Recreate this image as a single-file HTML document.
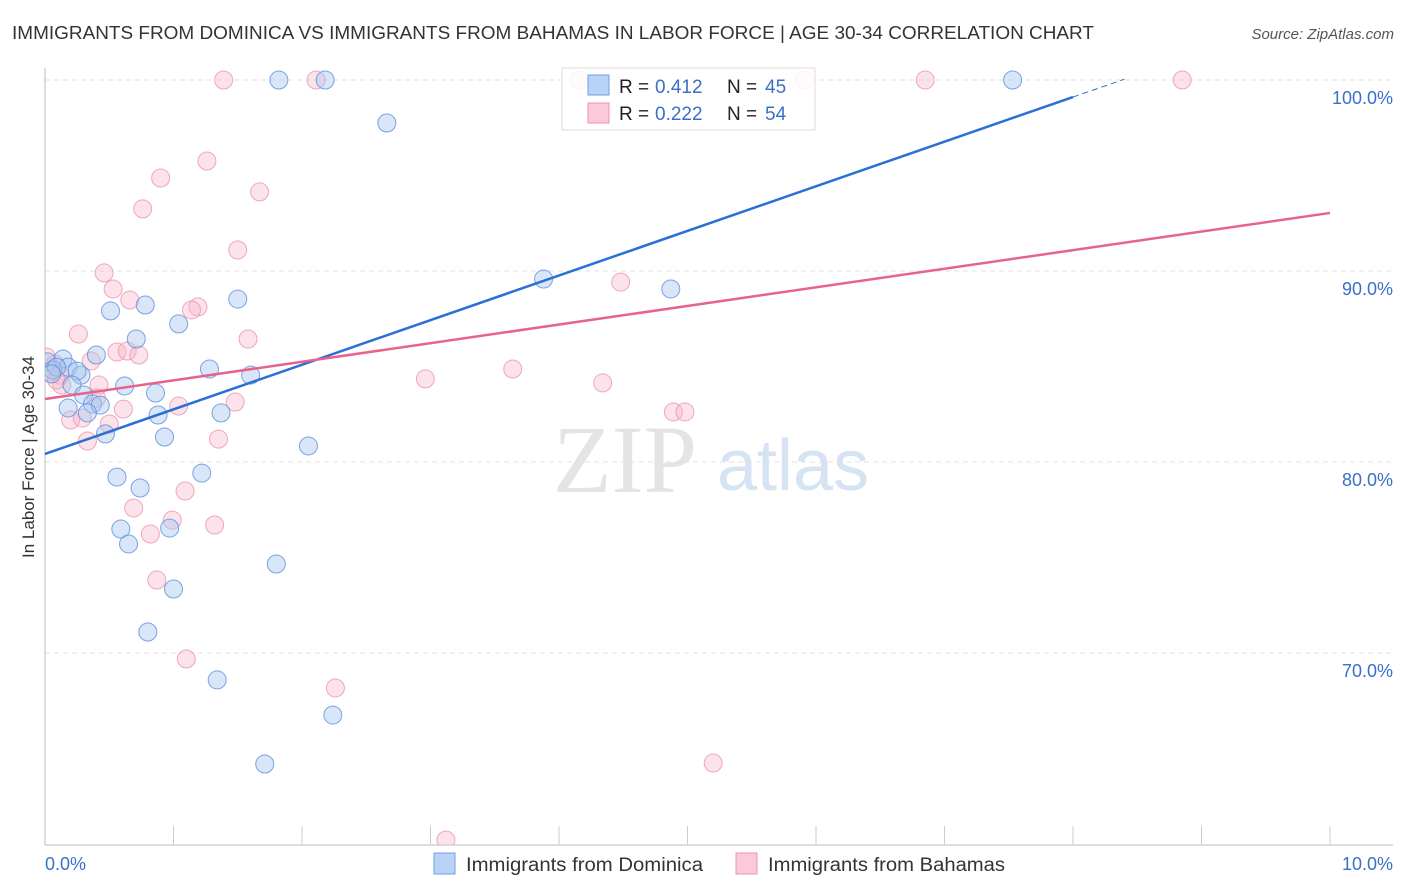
<!DOCTYPE html>
<html><head><meta charset="utf-8"><style>
body{margin:0;background:#fff;font-family:"Liberation Sans",sans-serif;}
svg{display:block}
</style></head><body>
<svg id="chart" width="1406" height="892" viewBox="0 0 1406 892" xmlns="http://www.w3.org/2000/svg">
<text x="12" y="39" font-size="18" fill="#333" textLength="1082" lengthAdjust="spacingAndGlyphs">IMMIGRANTS FROM DOMINICA VS IMMIGRANTS FROM BAHAMAS IN LABOR FORCE | AGE 30-34 CORRELATION CHART</text>
<text x="1394" y="39" font-size="15" fill="#555" font-style="italic" text-anchor="end">Source: ZipAtlas.com</text>
<g>
<text x="553" y="492" font-size="96" font-family="Liberation Serif,serif" fill="#e4e4e4">ZIP</text>
<text x="717" y="490" font-size="72" fill="#d6e3f3">atlas</text>
</g>
<g id="grid"></g>
<g id="axes"></g>
<defs><clipPath id="plotclip"><rect x="45" y="60" width="1360" height="785"/></clipPath></defs>
<g id="points" clip-path="url(#plotclip)"></g>
<g id="trends"></g>
<text transform="translate(34,457) rotate(-90)" font-size="17" fill="#333" text-anchor="middle">In Labor Force | Age 30-34</text>
<g>
<rect x="562" y="68" width="253" height="62" fill="#fff" fill-opacity="0.85" stroke="#ddd"/>
<rect x="588" y="75" width="21" height="20" fill="#b8d3f5" stroke="#6fa0e0"/>
<rect x="588" y="103" width="21" height="20" fill="#fbc9d8" stroke="#eb94ad"/>
<text x="619" y="93" font-size="19" fill="#222">R = <tspan x="655" fill="#3a70c8">0.412</tspan><tspan x="727">N = </tspan><tspan x="765" fill="#3a70c8">45</tspan></text>
<text x="619" y="120" font-size="19" fill="#222">R = <tspan x="655" fill="#3a70c8">0.222</tspan><tspan x="727">N = </tspan><tspan x="765" fill="#3a70c8">54</tspan></text>
</g>
<g>
<rect x="434" y="853" width="21" height="21" fill="#b8d3f5" stroke="#6fa0e0"/>
<text x="466" y="871" font-size="19" fill="#333" textLength="237" lengthAdjust="spacingAndGlyphs">Immigrants from Dominica</text>
</g>
<g>
<rect x="736" y="853" width="21" height="21" fill="#fbc9d8" stroke="#eb94ad"/>
<text x="768" y="871" font-size="19" fill="#333" textLength="237" lengthAdjust="spacingAndGlyphs">Immigrants from Bahamas</text>
</g>
</svg>
<script>
const yTicks=[100,90,80,70];
const yTickLabels=["100.0%","90.0%","80.0%","70.0%"];
const xTickCount=10;
const xLabels=["0.0%","10.0%"];
const domX=[0.02,0.14,0.18,0.28,0.51,0.78,0.06,0.09,1.82,2.18,7.53,2.66,3.88,4.87,1.50,1.04,0.71,0.40,0.25,1.28,1.60,0.21,0.62,0.86,0.30,0.37,0.43,0.18,0.33,0.88,1.37,0.93,0.47,2.05,0.56,1.22,0.74,0.59,0.97,0.65,1.80,1.00,0.80,1.34,2.24,1.71,0.05];
const domY=[85.24,85.39,84.97,84.55,87.91,88.22,84.82,84.97,100,100,100,97.75,89.58,89.06,88.53,87.23,86.44,85.60,84.76,84.87,84.55,84.03,83.98,83.61,83.51,83.04,82.98,82.83,82.57,82.46,82.57,81.31,81.47,80.84,79.21,79.42,78.64,76.49,76.54,75.71,74.66,73.35,71.10,68.59,66.75,64.19,84.61];
const bahX=[1.39,2.11,4.16,5.91,6.85,8.85,1.26,0.90,1.67,0.76,1.50,0.46,0.53,0.66,1.19,1.14,1.58,0.26,0.56,0.64,0.73,0.36,0.01,0.08,0.12,0.13,0.42,2.96,3.64,4.34,4.48,4.89,4.98,1.48,0.61,1.04,0.20,0.29,0.50,0.40,0.33,1.35,1.09,0.69,0.99,0.82,1.32,0.87,1.10,2.26,5.20,3.12,0.04,0.09];
const bahY=[100,100,100,100,100,100,95.76,94.87,94.14,93.25,91.10,89.90,89.06,88.48,88.12,87.96,86.44,86.70,85.76,85.81,85.60,85.29,85.50,85.13,84.55,84.03,84.03,84.35,84.87,84.14,89.42,82.62,82.62,83.14,82.77,82.93,82.20,82.30,81.99,83.35,81.10,81.20,78.48,77.59,76.96,76.23,76.70,73.82,69.69,68.17,64.24,60.21,84.71,84.29];
const domTrend=[80.42,2.336];
const bahTrend=[83.30,0.974];

const X=v=>45+v*128.5;
const Y=v=>80+(100-v)*19.1;
const NS="http://www.w3.org/2000/svg";
function mk(parent,tag,attrs){const e=document.createElementNS(NS,tag);for(const k in attrs)e.setAttribute(k,attrs[k]);document.getElementById(parent).appendChild(e);return e;}

yTicks.forEach((t,i)=>{
  const l=mk('grid','line',{x1:45,x2:1393,y1:Y(t),y2:Y(t),stroke:'#e2e2e2','stroke-dasharray':'5,4'});
  
  
  const tx=mk('grid','text',{x:1393,y:Y(t)+24,'font-size':18,fill:'#3a70c8','text-anchor':'end'});
  tx.textContent=yTickLabels[i];
  
  
});
let ax=mk('axes','line',{x1:45,x2:45,y1:68,y2:845,stroke:'#bbb'});


ax=mk('axes','line',{x1:45,x2:1393,y1:845,y2:845,stroke:'#bbb'});


for(let i=1;i<=xTickCount;i++){
  const t=mk('axes','line',{x1:X(i),x2:X(i),y1:826,y2:845,stroke:'#ccc'});
  
  
}
let xl=mk('axes','text',{x:45,y:870,'font-size':18,fill:'#3a70c8'});
xl.textContent=xLabels[0];


xl=mk('axes','text',{x:1393,y:870,'font-size':18,fill:'#3a70c8','text-anchor':'end'});
xl.textContent=xLabels[1];



bahX.forEach((v,i)=>{
  const c=mk('points','circle',{cx:X(v),cy:Y(bahY[i]),r:9,fill:'#f7b6ca','fill-opacity':0.4,stroke:'#eb94ad','stroke-opacity':0.8});
  
  
});
domX.forEach((v,i)=>{
  const c=mk('points','circle',{cx:X(v),cy:Y(domY[i]),r:9,fill:'#a9c8f0','fill-opacity':0.45,stroke:'#5b8fdc','stroke-opacity':0.8});
  
  
});
let tl=mk('trends','line',{x1:X(0),y1:Y(domTrend[0]),x2:X(8),y2:Y(domTrend[0]+8*domTrend[1]),stroke:'#2a6fd6','stroke-width':2.5});


tl=mk('trends','line',{x1:X(8),y1:Y(domTrend[0]+8*domTrend[1]),x2:X(8.4),y2:Y(domTrend[0]+8.4*domTrend[1]),stroke:'#2a6fd6','stroke-width':1,'stroke-dasharray':'6,4'});


tl=mk('trends','line',{x1:X(0),y1:Y(bahTrend[0]),x2:X(10),y2:Y(bahTrend[0]+10*bahTrend[1]),stroke:'#e8628f','stroke-width':2.5});


</script>
</body></html>
